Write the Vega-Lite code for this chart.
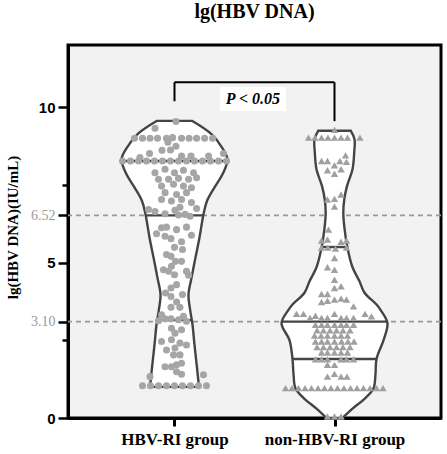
{
  "$schema": "https://vega.github.io/schema/vega-lite/v6.json",
  "width": 373,
  "height": 373,
  "autosize": {"type": "none"},
  "padding": {"left": 68, "top": 45, "right": 6, "bottom": 36},
  "background": "white",
  "title": {"text": "lg(HBV DNA)", "font": "Liberation Serif", "fontWeight": "bold", "fontSize": 20, "color": "#000", "anchor": "middle", "frame": "group", "baseline": "alphabetic", "offset": 7},
  "config": {"view": {"stroke": "#000", "strokeWidth": 3, "fill": "#f2f2f2"}},
  "datasets": {
    "ref": [{"y": 6.52}, {"y": 3.1}],
    "violin": [
      {"g": "A", "y": 1.0, "xl": 0.847, "xr": 1.153},
      {"g": "A", "y": 1.6, "xl": 0.859, "xr": 1.141},
      {"g": "A", "y": 2.35, "xl": 0.875, "xr": 1.125},
      {"g": "A", "y": 3.0, "xl": 0.8875, "xr": 1.1125},
      {"g": "A", "y": 3.5, "xl": 0.903, "xr": 1.097},
      {"g": "A", "y": 3.97, "xl": 0.9125, "xr": 1.0875},
      {"g": "A", "y": 4.5, "xl": 0.894, "xr": 1.106},
      {"g": "A", "y": 5.16, "xl": 0.869, "xr": 1.131},
      {"g": "A", "y": 5.8, "xl": 0.844, "xr": 1.156},
      {"g": "A", "y": 6.55, "xl": 0.819, "xr": 1.181},
      {"g": "A", "y": 6.98, "xl": 0.797, "xr": 1.203},
      {"g": "A", "y": 7.42, "xl": 0.75, "xr": 1.25},
      {"g": "A", "y": 7.84, "xl": 0.7, "xr": 1.3},
      {"g": "A", "y": 8.32, "xl": 0.669, "xr": 1.331},
      {"g": "A", "y": 8.7, "xl": 0.703, "xr": 1.297},
      {"g": "A", "y": 9.13, "xl": 0.769, "xr": 1.231},
      {"g": "A", "y": 9.56, "xl": 0.891, "xr": 1.109},
      {"g": "B", "y": 0.0, "xl": 1.95, "xr": 2.05},
      {"g": "B", "y": 0.3, "xl": 1.8875, "xr": 2.1125},
      {"g": "B", "y": 0.65, "xl": 1.806, "xr": 2.194},
      {"g": "B", "y": 0.96, "xl": 1.756, "xr": 2.244},
      {"g": "B", "y": 1.4, "xl": 1.744, "xr": 2.256},
      {"g": "B", "y": 1.9, "xl": 1.7375, "xr": 2.2625},
      {"g": "B", "y": 2.5, "xl": 1.719, "xr": 2.306},
      {"g": "B", "y": 3.05, "xl": 1.669, "xr": 2.331},
      {"g": "B", "y": 3.48, "xl": 1.7125, "xr": 2.2875},
      {"g": "B", "y": 3.65, "xl": 1.7375, "xr": 2.2625},
      {"g": "B", "y": 4.03, "xl": 1.8125, "xr": 2.1875},
      {"g": "B", "y": 4.4, "xl": 1.844, "xr": 2.156},
      {"g": "B", "y": 4.85, "xl": 1.8875, "xr": 2.1125},
      {"g": "B", "y": 5.48, "xl": 1.919, "xr": 2.081},
      {"g": "B", "y": 6.1, "xl": 1.9375, "xr": 2.0625},
      {"g": "B", "y": 6.6, "xl": 1.945, "xr": 2.055},
      {"g": "B", "y": 7.03, "xl": 1.939, "xr": 2.061},
      {"g": "B", "y": 7.46, "xl": 1.922, "xr": 2.078},
      {"g": "B", "y": 8.0, "xl": 1.8875, "xr": 2.1125},
      {"g": "B", "y": 8.54, "xl": 1.877, "xr": 2.123},
      {"g": "B", "y": 8.97, "xl": 1.875, "xr": 2.125},
      {"g": "B", "y": 9.24, "xl": 1.898, "xr": 2.102}
    ],
    "quart": [
      {"y": 8.27, "xl": 0.672, "xr": 1.328},
      {"y": 6.52, "xl": 0.819, "xr": 1.181},
      {"y": 3.15, "xl": 0.892, "xr": 1.108},
      {"y": 5.5, "xl": 1.919, "xr": 2.081},
      {"y": 3.1, "xl": 1.672, "xr": 2.328},
      {"y": 1.9, "xl": 1.7375, "xr": 2.2625}
    ],
    "g1": [
      {"x": 1.009, "y": 9.54}, {"x": 0.878, "y": 9.32},
      {"x": 0.75, "y": 9.0}, {"x": 0.8, "y": 9.0}, {"x": 0.847, "y": 9.0}, {"x": 0.894, "y": 9.0}, {"x": 0.95, "y": 9.0}, {"x": 0.988, "y": 9.02}, {"x": 1.044, "y": 9.0}, {"x": 1.091, "y": 9.0}, {"x": 1.138, "y": 9.0}, {"x": 1.188, "y": 9.0}, {"x": 1.238, "y": 9.0},
      {"x": 0.959, "y": 8.87}, {"x": 1.009, "y": 8.74}, {"x": 0.922, "y": 8.61}, {"x": 0.975, "y": 8.62}, {"x": 0.844, "y": 8.51}, {"x": 0.784, "y": 8.38}, {"x": 1.044, "y": 8.43}, {"x": 1.103, "y": 8.43}, {"x": 1.213, "y": 8.43}, {"x": 1.306, "y": 8.51},
      {"x": 0.675, "y": 8.27}, {"x": 0.725, "y": 8.27}, {"x": 0.775, "y": 8.27}, {"x": 0.825, "y": 8.27}, {"x": 0.875, "y": 8.27}, {"x": 0.925, "y": 8.27}, {"x": 0.975, "y": 8.27}, {"x": 1.025, "y": 8.27}, {"x": 1.075, "y": 8.27}, {"x": 1.125, "y": 8.27}, {"x": 1.175, "y": 8.27}, {"x": 1.225, "y": 8.27}, {"x": 1.275, "y": 8.27}, {"x": 1.325, "y": 8.27},
      {"x": 0.878, "y": 7.89}, {"x": 0.941, "y": 8.0}, {"x": 1.0, "y": 7.89}, {"x": 1.056, "y": 7.97}, {"x": 1.119, "y": 7.89}, {"x": 0.9, "y": 7.68}, {"x": 0.963, "y": 7.68}, {"x": 1.025, "y": 7.71}, {"x": 1.088, "y": 7.68}, {"x": 1.138, "y": 7.73}, {"x": 0.919, "y": 7.46}, {"x": 0.994, "y": 7.52}, {"x": 1.056, "y": 7.46}, {"x": 1.106, "y": 7.41}, {"x": 0.941, "y": 7.25}, {"x": 1.013, "y": 7.19}, {"x": 1.075, "y": 7.25}, {"x": 0.919, "y": 7.03}, {"x": 0.981, "y": 6.98}, {"x": 1.044, "y": 7.03}, {"x": 1.106, "y": 6.93},
      {"x": 0.8375, "y": 6.71}, {"x": 0.878, "y": 6.64}, {"x": 0.941, "y": 6.57}, {"x": 1.003, "y": 6.68}, {"x": 1.034, "y": 6.78}, {"x": 1.025, "y": 6.53}, {"x": 1.066, "y": 6.55}, {"x": 1.097, "y": 6.49}, {"x": 1.138, "y": 6.74}, {"x": 0.919, "y": 6.12}, {"x": 0.95, "y": 6.14}, {"x": 0.8875, "y": 5.93}, {"x": 0.941, "y": 5.85}, {"x": 0.978, "y": 5.77}, {"x": 1.013, "y": 6.06}, {"x": 1.075, "y": 6.14}, {"x": 1.106, "y": 5.88}, {"x": 1.044, "y": 5.67}, {"x": 1.0, "y": 5.49}, {"x": 1.05, "y": 5.42}, {"x": 0.95, "y": 5.26}, {"x": 0.978, "y": 5.2}, {"x": 1.006, "y": 5.04}, {"x": 1.044, "y": 5.04}, {"x": 0.981, "y": 4.88}, {"x": 0.931, "y": 4.77}, {"x": 0.963, "y": 4.72}, {"x": 1.0, "y": 4.61}, {"x": 1.075, "y": 4.72}, {"x": 1.088, "y": 4.59}, {"x": 1.013, "y": 4.29}, {"x": 0.978, "y": 4.18}, {"x": 0.944, "y": 4.02}, {"x": 0.978, "y": 3.91}, {"x": 1.05, "y": 3.97},
      {"x": 1.013, "y": 3.73}, {"x": 0.978, "y": 3.56}, {"x": 1.034, "y": 3.56}, {"x": 0.919, "y": 3.32}, {"x": 0.9, "y": 3.13}, {"x": 0.941, "y": 3.19}, {"x": 0.978, "y": 3.19}, {"x": 1.025, "y": 3.16}, {"x": 1.056, "y": 3.27}, {"x": 1.075, "y": 3.11}, {"x": 0.981, "y": 2.89}, {"x": 1.044, "y": 2.84}, {"x": 1.003, "y": 2.73}, {"x": 0.919, "y": 2.46}, {"x": 0.981, "y": 2.52}, {"x": 1.034, "y": 2.41}, {"x": 1.075, "y": 2.35}, {"x": 0.95, "y": 2.19}, {"x": 1.003, "y": 2.25}, {"x": 0.994, "y": 2.03}, {"x": 1.034, "y": 2.03}, {"x": 0.941, "y": 1.65}, {"x": 0.981, "y": 1.65}, {"x": 1.013, "y": 1.71}, {"x": 1.044, "y": 1.76}, {"x": 1.013, "y": 1.49}, {"x": 1.044, "y": 1.41}, {"x": 0.847, "y": 1.33}, {"x": 1.181, "y": 1.39},
      {"x": 0.8, "y": 1.04}, {"x": 0.85, "y": 1.04}, {"x": 0.9, "y": 1.04}, {"x": 0.95, "y": 1.04}, {"x": 1.0, "y": 1.04}, {"x": 1.05, "y": 1.04}, {"x": 1.1, "y": 1.04}, {"x": 1.15, "y": 1.04}, {"x": 1.2, "y": 1.04}
    ],
    "g2": [
      {"x": 2.0, "y": 9.27},
      {"x": 1.8375, "y": 9.02}, {"x": 1.878, "y": 9.02}, {"x": 1.919, "y": 9.02}, {"x": 1.959, "y": 9.02}, {"x": 2.0, "y": 9.02}, {"x": 2.041, "y": 9.02}, {"x": 2.081, "y": 9.02}, {"x": 2.159, "y": 9.02},
      {"x": 1.919, "y": 8.27}, {"x": 1.956, "y": 8.27}, {"x": 1.956, "y": 7.97}, {"x": 2.0, "y": 8.13}, {"x": 2.0, "y": 7.86}, {"x": 2.034, "y": 8.27}, {"x": 2.041, "y": 8.0}, {"x": 2.069, "y": 8.45}, {"x": 2.075, "y": 8.24},
      {"x": 1.956, "y": 7.03}, {"x": 2.0, "y": 7.05}, {"x": 2.041, "y": 7.19}, {"x": 2.0, "y": 6.8},
      {"x": 1.9625, "y": 6.06}, {"x": 1.956, "y": 5.74}, {"x": 1.919, "y": 5.71}, {"x": 2.041, "y": 5.67}, {"x": 2.075, "y": 5.71},
      {"x": 1.919, "y": 5.48}, {"x": 1.959, "y": 5.48}, {"x": 2.006, "y": 5.45}, {"x": 2.075, "y": 5.48},
      {"x": 2.0, "y": 5.15}, {"x": 1.956, "y": 4.85}, {"x": 2.0, "y": 4.77}, {"x": 2.0, "y": 4.45}, {"x": 2.0, "y": 4.18}, {"x": 2.041, "y": 4.24}, {"x": 1.956, "y": 3.99}, {"x": 1.919, "y": 3.99}, {"x": 1.956, "y": 3.77}, {"x": 1.919, "y": 3.73}, {"x": 2.0, "y": 3.81}, {"x": 2.041, "y": 3.84}, {"x": 2.075, "y": 3.81}, {"x": 2.119, "y": 3.59},
      {"x": 1.7625, "y": 3.35}, {"x": 1.806, "y": 3.35}, {"x": 1.847, "y": 3.22}, {"x": 1.881, "y": 3.29}, {"x": 1.919, "y": 3.22}, {"x": 1.956, "y": 3.22}, {"x": 2.0, "y": 3.35}, {"x": 2.041, "y": 3.22}, {"x": 2.075, "y": 3.22}, {"x": 2.119, "y": 3.22}, {"x": 2.191, "y": 3.35}, {"x": 2.231, "y": 3.27},
      {"x": 1.881, "y": 3.0}, {"x": 1.919, "y": 3.0}, {"x": 1.956, "y": 3.0}, {"x": 2.0, "y": 3.0}, {"x": 2.041, "y": 3.0}, {"x": 2.075, "y": 3.0}, {"x": 2.119, "y": 3.0},
      {"x": 1.891, "y": 2.82}, {"x": 1.931, "y": 2.82}, {"x": 1.972, "y": 2.82}, {"x": 2.0125, "y": 2.82}, {"x": 2.053, "y": 2.82}, {"x": 2.097, "y": 2.82},
      {"x": 1.875, "y": 2.65}, {"x": 1.916, "y": 2.65}, {"x": 1.956, "y": 2.65}, {"x": 2.0, "y": 2.65}, {"x": 2.041, "y": 2.65}, {"x": 2.081, "y": 2.65},
      {"x": 1.881, "y": 2.46}, {"x": 1.919, "y": 2.46}, {"x": 1.956, "y": 2.46}, {"x": 2.0, "y": 2.46}, {"x": 2.044, "y": 2.46}, {"x": 2.084, "y": 2.46}, {"x": 2.122, "y": 2.46},
      {"x": 1.891, "y": 2.28}, {"x": 1.931, "y": 2.28}, {"x": 1.972, "y": 2.28}, {"x": 2.0125, "y": 2.28}, {"x": 2.053, "y": 2.28}, {"x": 2.097, "y": 2.28},
      {"x": 1.919, "y": 2.11}, {"x": 1.956, "y": 2.11}, {"x": 2.0, "y": 2.11}, {"x": 2.041, "y": 2.11}, {"x": 2.081, "y": 2.11},
      {"x": 1.881, "y": 1.89}, {"x": 1.919, "y": 1.89}, {"x": 1.956, "y": 1.89}, {"x": 2.041, "y": 1.89}, {"x": 2.075, "y": 1.89}, {"x": 2.119, "y": 1.89},
      {"x": 1.956, "y": 1.71}, {"x": 2.0, "y": 1.71},
      {"x": 1.956, "y": 1.33}, {"x": 2.0, "y": 1.42}, {"x": 2.041, "y": 1.33}, {"x": 2.078, "y": 1.33},
      {"x": 1.694, "y": 0.96}, {"x": 1.734, "y": 0.96}, {"x": 1.775, "y": 0.96}, {"x": 1.816, "y": 0.96}, {"x": 1.856, "y": 0.96}, {"x": 1.897, "y": 0.96}, {"x": 1.9375, "y": 0.96}, {"x": 1.978, "y": 0.96}, {"x": 2.019, "y": 0.96}, {"x": 2.059, "y": 0.96}, {"x": 2.1, "y": 0.96}, {"x": 2.141, "y": 0.96}, {"x": 2.181, "y": 0.96}, {"x": 2.222, "y": 0.96}, {"x": 2.2625, "y": 0.96}, {"x": 2.303, "y": 0.96},
      {"x": 1.956, "y": 0.05}, {"x": 2.0, "y": 0.05}, {"x": 2.041, "y": 0.05}
    ],
    "brk": [
      {"x": 1, "x2": 2, "y": 10.8, "y2": 10.8},
      {"x": 1, "x2": 1, "y": 10.19, "y2": 10.8},
      {"x": 2, "x2": 2, "y": 9.55, "y2": 10.8}
    ],
    "ptxt": [{"x": 1.49, "y": 10.26, "t": "P < 0.05"}]
  },
  "layer": [
    {
      "data": {"name": "ref"},
      "mark": {"type": "rule", "color": "#999999", "strokeWidth": 1.6, "strokeDash": [5, 4]},
      "encoding": {
        "y": {"field": "y", "type": "quantitative", "scale": {"domain": [0, 12], "nice": false, "zero": false},
          "axis": {
            "values": [0, 2.5, 3.1, 5, 6.52, 7.5, 10],
            "labelExpr": "datum.value == 3.1 ? '3.10' : datum.value == 6.52 ? '6.52' : (datum.value == 2.5 || datum.value == 7.5) ? '' : datum.label",
            "labelColor": {"condition": {"test": "datum.value == 3.1 || datum.value == 6.52", "value": "#9a9a9a"}, "value": "#000000"},
            "labelFont": {"condition": {"test": "datum.value == 3.1 || datum.value == 6.52", "value": "Liberation Serif"}, "value": "Liberation Sans"},
            "labelFontWeight": {"condition": {"test": "datum.value == 3.1 || datum.value == 6.52", "value": "normal"}, "value": "bold"},
            "labelFontSize": {"condition": {"test": "datum.value == 3.1 || datum.value == 6.52", "value": 14}, "value": 15},
            "tickSize": {"condition": {"test": "datum.value == 2.5 || datum.value == 7.5", "value": 6}, "value": 10},
            "labelPadding": 3,
            "tickColor": "#000", "tickWidth": 2.5,
            "domain": true, "domainColor": "#000", "domainWidth": 3,
            "grid": false,
            "title": "lg(HBV DNA)(IU/mL)",
            "titleFont": "Liberation Serif", "titleFontWeight": "bold", "titleFontSize": 15, "titleColor": "#000",
            "titleAngle": -90, "titleX": -56, "titleY": 182, "titleAlign": "center", "titleBaseline": "middle"
          }
        }
      }
    },
    {
      "data": {"name": "violin"},
      "mark": {"type": "area", "orient": "horizontal", "interpolate": "catmull-rom", "fill": "#ffffff", "stroke": "#444444", "strokeWidth": 2.4, "opacity": 1, "fillOpacity": 1},
      "encoding": {
        "detail": {"field": "g"},
        "y": {"field": "y", "type": "quantitative", "scale": {"domain": [0, 12], "nice": false, "zero": false}},
        "x": {"field": "xl", "type": "quantitative", "scale": {"domain": [0.3344, 2.6656], "nice": false, "zero": false},
          "axis": {"values": [1, 2], "labelExpr": "datum.value == 1 ? 'HBV-RI group' : 'non-HBV-RI group'",
            "labelFont": "Liberation Serif", "labelFontWeight": "bold", "labelFontSize": 17, "labelColor": "#000",
            "tickSize": 8, "tickWidth": 3, "tickColor": "#000", "labelPadding": 5,
            "domain": true, "domainColor": "#000", "domainWidth": 3, "grid": false, "title": null}},
        "x2": {"field": "xr"}
      }
    },
    {
      "data": {"name": "quart"},
      "mark": {"type": "rule", "color": "#444444", "strokeWidth": 2.4},
      "encoding": {
        "y": {"field": "y", "type": "quantitative", "scale": {"domain": [0, 12], "nice": false, "zero": false}},
        "x": {"field": "xl", "type": "quantitative", "scale": {"domain": [0.3344, 2.6656], "nice": false, "zero": false}},
        "x2": {"field": "xr"}
      }
    },
    {
      "data": {"name": "g1"},
      "mark": {"type": "point", "shape": "circle", "filled": true, "size": 50, "color": "#a6a6a6", "opacity": 1},
      "encoding": {
        "y": {"field": "y", "type": "quantitative", "scale": {"domain": [0, 12], "nice": false, "zero": false}},
        "x": {"field": "x", "type": "quantitative", "scale": {"domain": [0.3344, 2.6656], "nice": false, "zero": false}}
      }
    },
    {
      "data": {"name": "g2"},
      "mark": {"type": "point", "shape": "triangle-up", "filled": true, "size": 55, "color": "#a0a0a0", "opacity": 1},
      "encoding": {
        "y": {"field": "y", "type": "quantitative", "scale": {"domain": [0, 12], "nice": false, "zero": false}},
        "x": {"field": "x", "type": "quantitative", "scale": {"domain": [0.3344, 2.6656], "nice": false, "zero": false}}
      }
    },
    {
      "data": {"name": "brk"},
      "mark": {"type": "rule", "color": "#000", "strokeWidth": 2},
      "encoding": {
        "y": {"field": "y", "type": "quantitative", "scale": {"domain": [0, 12], "nice": false, "zero": false}},
        "y2": {"field": "y2"},
        "x": {"field": "x", "type": "quantitative", "scale": {"domain": [0.3344, 2.6656], "nice": false, "zero": false}},
        "x2": {"field": "x2"}
      }
    },
    {
      "data": {"name": "ptxt"},
      "mark": {"type": "point", "shape": "M-1,-0.364H1V0.364H-1Z", "filled": true, "size": 4356, "color": "#ffffff", "opacity": 1, "strokeWidth": 0},
      "encoding": {
        "y": {"field": "y", "type": "quantitative", "scale": {"domain": [0, 12], "nice": false, "zero": false}},
        "x": {"field": "x", "type": "quantitative", "scale": {"domain": [0.3344, 2.6656], "nice": false, "zero": false}}
      }
    },
    {
      "data": {"name": "ptxt"},
      "mark": {"type": "text", "font": "Liberation Serif", "fontWeight": "bold", "fontStyle": "italic", "fontSize": 16, "color": "#000", "align": "center", "baseline": "middle"},
      "encoding": {
        "text": {"field": "t"},
        "y": {"field": "y", "type": "quantitative", "scale": {"domain": [0, 12], "nice": false, "zero": false}},
        "x": {"field": "x", "type": "quantitative", "scale": {"domain": [0.3344, 2.6656], "nice": false, "zero": false}}
      }
    }
  ]
}
